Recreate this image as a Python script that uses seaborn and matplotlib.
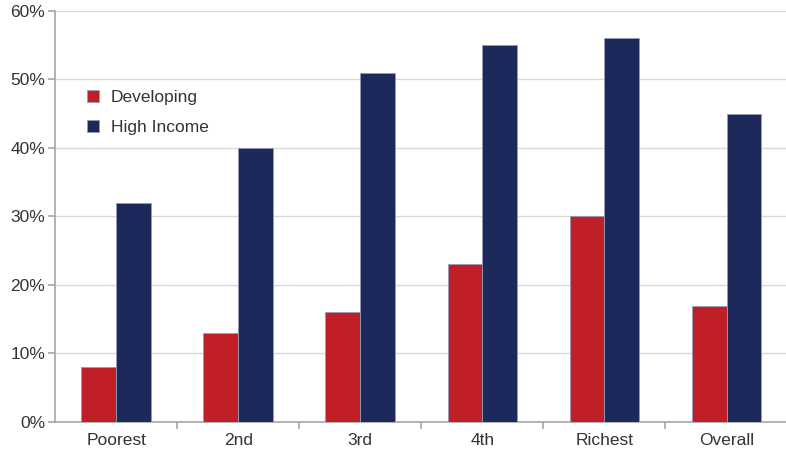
import matplotlib
matplotlib.use("Agg")
import matplotlib.pyplot as plt
import seaborn as sns
import pandas as pd
from matplotlib.ticker import FuncFormatter, MultipleLocator

categories = ["Poorest", "2nd", "3rd", "4th", "Richest", "Overall"]
developing = [8, 13, 16, 23, 30, 17]
high_income = [32, 40, 51, 55, 56, 45]
series_names = ["Developing", "High Income"]
colors = ["#C11F27", "#1D285B"]

df = pd.DataFrame({
    "group": categories * 2,
    "series": [series_names[0]] * len(categories) + [series_names[1]] * len(categories),
    "value": developing + high_income,
})

sns.set_style("white")
plt.rcParams["font.family"] = ["Liberation Sans", "DejaVu Sans"]

fig = plt.figure(figsize=(7.86, 4.54), dpi=100)
ax = fig.add_axes([0.070, 0.0705, 0.932, 0.9053])

sns.barplot(data=df, x="group", y="value", hue="series", order=categories,
            hue_order=series_names, palette=colors, saturation=1, width=0.57,
            edgecolor="#9a9ab8", linewidth=0.6, ax=ax, zorder=3)

ax.set_ylim(0, 60)
ax.set_xlim(-0.5, len(categories) - 0.5)
ax.yaxis.set_major_locator(MultipleLocator(10))
ax.yaxis.set_major_formatter(FuncFormatter(lambda v, p: f"{v:.0f}%"))
ax.grid(axis="y", color="#d9d9d9", linewidth=1, zorder=0)
ax.set_axisbelow(True)

for side in ["top", "right"]:
    ax.spines[side].set_visible(False)
for side in ["left", "bottom"]:
    ax.spines[side].set_color("#a6a6a6")
    ax.spines[side].set_linewidth(1.2)

ax.set_xlabel("")
ax.set_ylabel("")
ax.tick_params(axis="y", which="major", length=5, color="#a6a6a6", width=1.2,
               labelsize=12.5, labelcolor="#333333", pad=2, left=True)
# category labels centered, boundary ticks between groups
ax.tick_params(axis="x", which="major", length=0, labelsize=12.5,
               labelcolor="#333333", pad=8)
ax.set_xticks([i + 0.5 for i in range(len(categories) - 1)], minor=True)
ax.tick_params(axis="x", which="minor", length=5, color="#a6a6a6", width=1.2,
               bottom=True)

leg = ax.legend(loc="upper left", bbox_to_anchor=(0.022, 0.845), frameon=False,
                fontsize=12.5, handlelength=0.7, handleheight=0.7,
                labelspacing=0.85, handletextpad=0.7, labelcolor="#333333")

fig.savefig("out.png", dpi=100)
